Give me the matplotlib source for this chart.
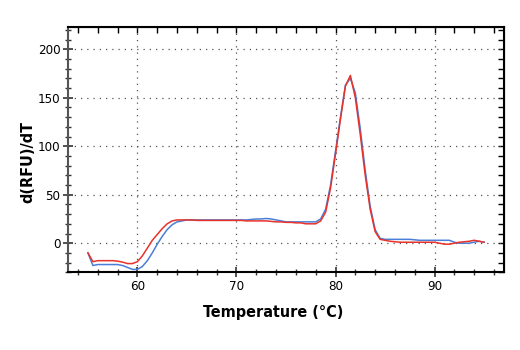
import numpy as np
import matplotlib.pyplot as plt
from matplotlib.ticker import MultipleLocator

plt.rcParams['font.family'] = ['DejaVu Sans']
plt.rcParams['font.stretch'] = 'condensed'

# melt curve derivative, sampled every 0.5 degC from 55 to 95
temp = np.arange(55.0, 95.01, 0.5)

blue = [-10, -23, -22, -22, -22, -22, -22, -23, -25, -27,
        -27, -24, -18, -10, -1, 7, 14, 19, 22, 23,
        24, 24, 24, 24, 24, 24, 24, 24, 24, 24,
        24, 24, 24, 24.5, 25, 25, 25.5, 25, 24, 23,
        22, 22, 22, 22, 22, 22, 22, 25, 35, 60,
        95, 130, 163, 170, 155, 118, 75, 38, 14, 5,
        4, 4, 4, 4, 4, 4, 3.5, 3, 3, 3,
        3, 3, 3, 3, 1, 0, 0, 0, 1, 2,
        1]

red = [-10, -19, -18, -18, -18, -18, -18.5, -19.5, -21, -21,
       -19, -13, -5, 3, 9, 15, 20, 23, 24, 24,
       24, 24, 23.5, 23.5, 23.5, 23.5, 23.5, 23.5, 23.5, 23.5,
       23.5, 23.5, 23, 23, 23, 23, 23, 22.5, 22, 22,
       21.5, 21.5, 21, 21, 20, 20, 20, 23, 32, 57,
       92, 128, 162, 173, 150, 112, 70, 35, 12, 4,
       3, 2, 1.5, 1, 1, 1, 1, 1, 1, 1,
       1, 0, -1, -1, 0, 1, 1.5, 2, 3, 2,
       1]

fig = plt.figure(figsize=(5.2, 3.5), dpi=100)
ax = fig.add_axes([0.131, 0.222, 0.838, 0.701])

ax.plot(temp, blue, color='#4a7fd6', lw=1.1)
ax.plot(temp, red, color='#e8322a', lw=1.1)

ax.set_xlim(53, 97)
ax.set_ylim(-30, 223)
ax.xaxis.set_major_locator(MultipleLocator(10))
ax.xaxis.set_minor_locator(MultipleLocator(2))
ax.yaxis.set_major_locator(MultipleLocator(50))
ax.yaxis.set_minor_locator(MultipleLocator(10))

ax.grid(True, which='major', linestyle=(0, (1, 4)), color='#555555', lw=0.9)
ax.tick_params(which='major', direction='inout', length=7, width=1.2,
               labelsize=9.5, color='#333333', pad=2)
ax.tick_params(which='minor', direction='inout', length=5, width=1.0,
               color='#333333')

for side in ['left', 'bottom', 'top', 'right']:
    ax.spines[side].set_linewidth(1.5)
ax.spines['left'].set_color('#555555')

# inward ticks on the top and right frame
top = ax.secondary_xaxis('top')
top.xaxis.set_major_locator(MultipleLocator(10))
top.xaxis.set_minor_locator(MultipleLocator(2))
top.tick_params(which='both', direction='in', labeltop=False, length=4, width=1.0)
right = ax.secondary_yaxis('right')
right.yaxis.set_major_locator(MultipleLocator(50))
right.yaxis.set_minor_locator(MultipleLocator(10))
right.tick_params(which='both', direction='in', labelright=False, length=4, width=1.0)

ax.set_xlabel('Temperature (°C)', fontsize=11.5, fontweight='bold')
ax.set_ylabel('d(RFU)/dT', fontsize=11.5, fontweight='bold')
ax.xaxis.set_label_coords(0.47, -0.135)
ax.yaxis.set_label_coords(-0.076, 0.45)

fig.savefig('out.png', dpi=100)
